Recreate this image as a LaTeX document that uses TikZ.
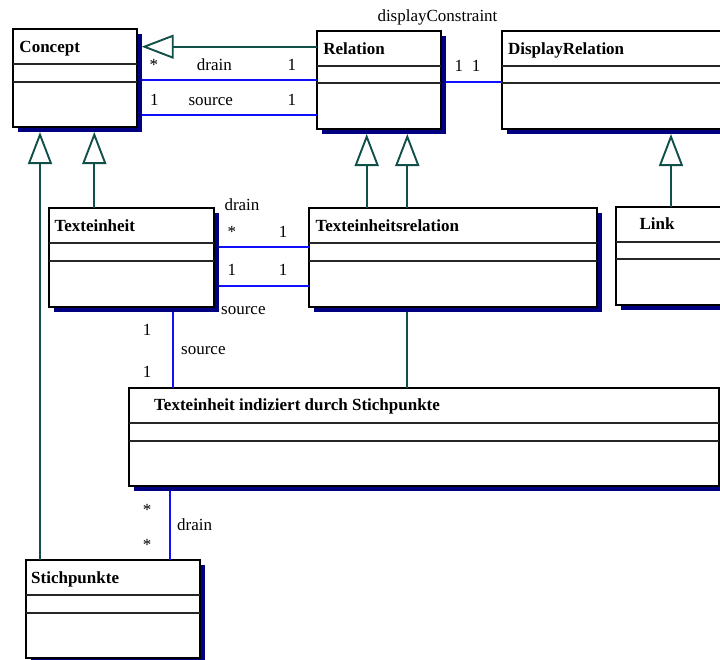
\documentclass[tikz,border=0pt]{standalone}
\usepackage{fontspec}
\setmainfont{Liberation Serif}
\usetikzlibrary{arrows.meta}
\definecolor{umlteal}{RGB}{16,80,72}
\definecolor{umlblue}{RGB}{16,16,255}
\definecolor{umlnavy}{RGB}{0,0,128}
\tikzset{
  classbox/.style={draw=black, line width=2pt, fill=white, inner sep=0pt, outer sep=0pt, anchor=north west},
  classshadow/.style={fill=umlnavy, draw=none, inner sep=0pt, outer sep=0pt, anchor=north west},
  divider/.style={line width=1.8pt, draw=black!85},
  classname/.style={font=\fontsize{17}{20}\selectfont\bfseries, inner sep=0pt, anchor=base west},
  lbl/.style={font=\fontsize{17}{20}\selectfont, inner sep=0pt, anchor=base west},
  assoc/.style={draw=umlblue, line width=1.9pt},
  gen/.style={draw=umlteal, line width=1.9pt, -{Triangle[open, length=32pt, width=24pt]}},
  plainlink/.style={draw=umlteal, line width=1.9pt},
}
% class box: name, left, top, right, bottom, first divider, second divider, title indent, title
\newcommand{\umlclass}[9]{%
  \node[classshadow, minimum width=#4-#2, minimum height=#5-#3] (#1-sh) at (#2+5,#3+5) {};
  \node[classbox, minimum width=#4-#2, minimum height=#5-#3] (#1) at (#2,#3) {};
  \draw[divider] (#2,#6) -- (#4,#6) (#2,#7) -- (#4,#7);
  \node[classname] (#1-name) at (#2+#8,#3+23) {#9};
}
\begin{document}
\begin{tikzpicture}[x=1pt, y=-1pt]
\useasboundingbox (0,0) rectangle (720,659);
\clip (0,0) rectangle (720,659);

% classes
\umlclass{concept}{13.3}{29}{136.7}{127}{64.3}{81.7}{6}{Concept}
\umlclass{relation}{316.7}{31}{440.7}{129}{65.7}{83.3}{6.5}{Relation}
\umlclass{disprel}{502.3}{31}{740}{129}{65.7}{83.3}{5.5}{DisplayRelation}
\umlclass{texteinheit}{49}{208.3}{214}{306.7}{243.3}{261}{5.3}{Texteinheit}
\umlclass{terel}{309.3}{208.3}{597.3}{306.7}{243.3}{261}{6}{Texteinheitsrelation}
\umlclass{link}{616.3}{206.7}{740}{305.3}{241.7}{259.3}{23}{Link}
\umlclass{indiziert}{129.3}{387.7}{718.7}{486}{423}{440.7}{24.7}{Texteinheit indiziert durch Stichpunkte}
\umlclass{stichpunkte}{26}{560}{200}{658.3}{595.3}{613}{5}{Stichpunkte}

% generalizations
\draw[gen] (relation.west |- 0,46.7) -- (concept-sh.east |- 0,46.7);
\draw[gen] (stichpunkte.north -| 40,0) -- (concept-sh.south -| 40,0);
\draw[gen] (texteinheit.north -| 94.3,0) -- (concept-sh.south -| 94.3,0);
\draw[gen] (terel.north -| 366.7,0) -- (relation-sh.south -| 366.7,0);
\draw[gen] (terel.north -| 407.3,0) -- (relation-sh.south -| 407.3,0);
\draw[gen] (link.north -| 671,0) -- (disprel-sh.south -| 671,0);

% associations
\draw[assoc] (concept-sh.east |- 0,80) -- (relation.west |- 0,80);
\draw[assoc] (concept-sh.east |- 0,115) -- (relation.west |- 0,115);
\draw[assoc] (relation-sh.east |- 0,81.7) -- (disprel.west |- 0,81.7);
\draw[assoc] (texteinheit-sh.east |- 0,247) -- (terel.west |- 0,247);
\draw[assoc] (texteinheit-sh.east |- 0,286) -- (terel.west |- 0,286);
\draw[assoc] (texteinheit-sh.south -| 173.3,0) -- (indiziert.north -| 173.3,0);
\draw[plainlink] (terel-sh.south -| 407.3,0) -- (indiziert.north -| 407.3,0);
\draw[assoc] (indiziert-sh.south -| 170,0) -- (stichpunkte.north -| 170,0);

% role names and multiplicities
\node[lbl] (cr-m1) at (149.3,70) {*};
\node[lbl] (cr-drain) at (196.7,70) {drain};
\node[lbl] (cr-m2) at (287.3,70) {1};
\node[lbl] (cr-m3) at (150,105) {1};
\node[lbl] (cr-source) at (188.3,105) {source};
\node[lbl] (cr-m4) at (287.3,105) {1};
\node[lbl] (rd-role) at (377.3,21) {displayConstraint};
\node[lbl] (rd-m1) at (454.3,71) {1};
\node[lbl] (rd-m2) at (471.7,71) {1};
\node[lbl] (tt-drain) at (224.3,210) {drain};
\node[lbl] (tt-m1) at (227.3,237.3) {*};
\node[lbl] (tt-m2) at (278.7,237.3) {1};
\node[lbl] (tt-m3) at (227.3,275) {1};
\node[lbl] (tt-m4) at (278.7,275) {1};
\node[lbl] (tt-source) at (221,314) {source};
\node[lbl] (ti-m1) at (142.7,335) {1};
\node[lbl] (ti-source) at (181,354.3) {source};
\node[lbl] (ti-m2) at (142.7,377.3) {1};
\node[lbl] (is-m1) at (142.7,515) {*};
\node[lbl] (is-drain) at (177,530) {drain};
\node[lbl] (is-m2) at (142.7,550) {*};
\end{tikzpicture}
\end{document}
